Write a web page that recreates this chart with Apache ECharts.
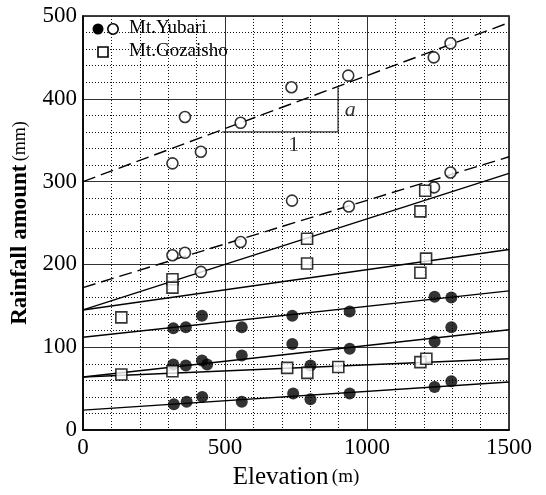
<!DOCTYPE html>
<html>
<head>
<meta charset="utf-8">
<script src="https://cdn.jsdelivr.net/npm/echarts@6/dist/echarts.min.js"></script>
<style>
  html, body { margin: 0; padding: 0; background: #fff; }
  #main { width: 546px; height: 495px; }
</style>
</head>
<body>
<div id="main"></div>
<script>
// points: [elevation m, rainfall mm]
const yubariOpen = [
  [315, 322], [359, 378], [415, 336], [555, 371], [734, 414], [934, 428], [1235, 450], [1294, 467],
  [315, 211], [359, 214], [415, 191], [555, 227], [736, 277], [936, 270], [1236, 293], [1294, 311]
]
const yubariFilled = [
  [318, 123], [362, 124], [419, 138], [559, 124], [737, 138], [939, 143], [1238, 161], [1297, 160],
  [318, 79], [362, 78], [419, 84], [437, 79], [559, 90], [737, 104], [801, 78], [939, 98], [1238, 107], [1297, 124],
  [320, 31], [365, 34], [420, 40], [559, 34], [740, 44], [801, 37], [939, 44], [1238, 52], [1297, 59]
]
const gozaisho = [
  [135, 136], [315, 182], [315, 172], [789, 231], [789, 201], [1205, 289], [1188, 264], [1208, 207], [1188, 190],
  [135, 67], [315, 71], [719, 75], [790, 69], [899, 76], [1188, 82], [1209, 86]
]
// fitted lines: value at 0 m and at 1500 m
const dashedFits = [[300, 492], [172, 330]]
const solidFits = [[145, 310], [145, 218], [112, 168], [64, 121], [64, 86], [24, 58]]
const lineEnds = [0, 1500]
// slope triangle
const slopeBox = [[490, 360], [898, 360], [898, 414]]
const slopeLabels = [{ name: 'a', value: [941, 386] }, { name: '1', value: [742, 344] }]

const serif = '"Liberation Serif", "Times New Roman", serif'

function fitSeries(fit, dashed) {
  return {
    type: 'line',
    data: lineEnds.map((x, i) => [x, fit[i]]),
    symbol: 'none',
    silent: true,
    z: 2,
    lineStyle: { color: '#000', width: 1.4, type: dashed ? [13, 6] : 'solid' }
  }
}

let series = []
dashedFits.forEach(f => series.push(fitSeries(f, true)))
solidFits.forEach(f => series.push(fitSeries(f, false)))
series.push({
  type: 'line',
  data: slopeBox,
  symbol: 'none',
  z: 2,
  lineStyle: { color: '#000', width: 1 }
})
series.push({
  type: 'scatter',
  data: slopeLabels,
  symbolSize: 0,
  z: 3,
  label: {
    show: true,
    formatter: (p) => p.name === 'a' ? '{it|a}' : '{up|1}',
    position: 'inside',
    rich: {
      it: { fontFamily: serif, fontSize: 22, fontStyle: 'italic', color: '#000' },
      up: { fontFamily: serif, fontSize: 22, color: '#000' }
    }
  }
})
series.push({
  name: 'Mt.Yubari',
  type: 'scatter',
  data: yubariOpen,
  symbol: 'circle',
  symbolSize: 11,
  z: 5,
  itemStyle: { color: '#fff', borderColor: '#000', borderWidth: 1.6 }
})
series.push({
  name: 'Mt.Yubari filled',
  type: 'scatter',
  data: yubariFilled,
  symbol: 'circle',
  symbolSize: 12,
  z: 5,
  itemStyle: { color: '#000' }
})
series.push({
  name: 'Mt.Gozaisho',
  type: 'scatter',
  data: gozaisho,
  symbol: 'rect',
  symbolSize: 11,
  z: 5,
  itemStyle: { color: '#fff', borderColor: '#000', borderWidth: 1.6 }
})

let myChart = echarts.init(document.getElementById('main'))
let option = {
  animation: false,
  backgroundColor: '#fff',
  grid: {
    left: 83, right: 37, top: 16, bottom: 55,
    show: true, borderColor: '#000', borderWidth: 1.5
  },
  xAxis: {
    type: 'value',
    min: 0, max: 1500, interval: 500,
    name: '{big|Elevation} {small|(m)}',
    nameLocation: 'middle',
    nameGap: 35,
    nameTextStyle: {
      rich: {
        big: { fontFamily: serif, fontSize: 25, color: '#000' },
        small: { fontFamily: serif, fontSize: 19, color: '#000' }
      }
    },
    axisLine: { lineStyle: { color: '#000', width: 1.5 } },
    axisTick: { show: false },
    axisLabel: { fontFamily: serif, fontSize: 23, color: '#000', margin: 6, formatter: (v) => String(v) },
    splitLine: { lineStyle: { color: '#333', width: 1 } },
    minorTick: { show: true, splitNumber: 5, length: 0 },
    minorSplitLine: { show: true, lineStyle: { color: '#111', width: 1, type: [1, 2] } }
  },
  yAxis: {
    type: 'value',
    min: 0, max: 500, interval: 100,
    name: '{big|Rainfall amount} {small|(mm)}',
    nameLocation: 'middle',
    nameGap: 51,
    nameTextStyle: {
      rich: {
        big: { fontFamily: serif, fontSize: 23, fontWeight: 'bold', color: '#000' },
        small: { fontFamily: serif, fontSize: 18, color: '#000' }
      }
    },
    axisLine: { show: true, lineStyle: { color: '#000', width: 1.5 } },
    axisTick: { show: false },
    axisLabel: { fontFamily: serif, fontSize: 23, color: '#000', margin: 6, formatter: (v) => String(v) },
    splitLine: { lineStyle: { color: '#333', width: 1 } },
    minorTick: { show: true, splitNumber: 5, length: 0 },
    minorSplitLine: { show: true, lineStyle: { color: '#111', width: 1, type: [1, 2] } }
  },
  graphic: [
    { type: 'circle', shape: { cx: 98, cy: 29, r: 5.5 }, style: { fill: '#000' }, z: 10 },
    { type: 'circle', shape: { cx: 113, cy: 29, r: 5.2 }, style: { fill: '#fff', stroke: '#000', lineWidth: 1.6 }, z: 10 },
    { type: 'text', left: 129, top: 19, z: 10, style: { text: 'Mt.Yubari', font: '19px ' + serif, fill: '#000' } },
    { type: 'rect', shape: { x: 98, y: 47, width: 10, height: 10 }, style: { fill: '#fff', stroke: '#000', lineWidth: 1.6 }, z: 10 },
    { type: 'text', left: 129, top: 42, z: 10, style: { text: 'Mt.Gozaisho', font: '19px ' + serif, fill: '#000' } }
  ],
  series: series
}
myChart.setOption(option)
</script>
</body>
</html>
